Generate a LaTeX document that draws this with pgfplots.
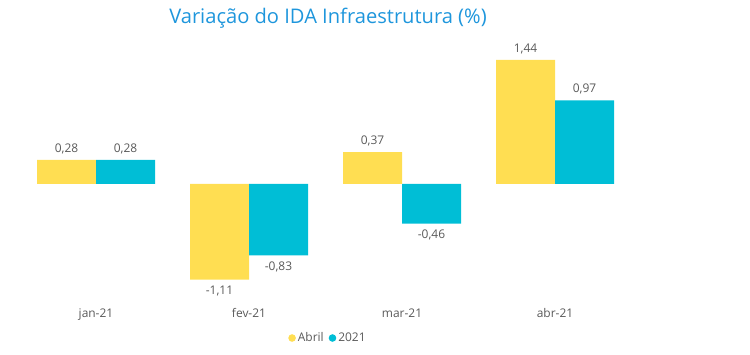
\documentclass[border=0pt]{standalone}
\usepackage{pgfplots}
\pgfplotsset{compat=1.18}
\usepackage{fontspec}
\setmainfont{Open Sans}
\definecolor{ya}{RGB}{255,222,82}
\definecolor{cb}{RGB}{0,190,214}
\definecolor{tb}{RGB}{30,150,220}
\definecolor{tg}{RGB}{89,89,89}
\begin{document}
\begin{tikzpicture}
\useasboundingbox (0bp,0bp) rectangle (750bp,355bp);
\node[text=tb, font=\fontsize{20.2}{24}\selectfont, inner sep=0pt] at (328bp,337bp) {Variação do IDA Infraestrutura (\%)};
\begin{axis}[at={(19.5bp,59.1bp)}, anchor=south west, scale only axis,
  width=612bp, height=245.4bp,
  xmin=-0.5, xmax=3.5, ymin=-1.3, ymax=1.55,
  ybar=0pt, bar width=59bp,
  axis line style={draw=none},
  ytick=\empty, xtick={0,1,2,3}, xticklabels={jan-21,fev-21,mar-21,abr-21},
  major tick length=0pt,
  xticklabel style={font=\fontsize{12}{14}\selectfont, text=tg, yshift=-9bp},
  /pgf/number format/.cd, use comma, fixed, fixed zerofill, precision=2, assume math mode=true, /pgfplots/.cd,
  nodes near coords,
  nodes near coords style={font=\fontsize{12}{14}\selectfont, text=tg, inner sep=6bp},
  legend style={draw=none, fill=none, at={(0.504,-0.1716)}, anchor=center, legend columns=2,
    font=\fontsize{12}{14}\selectfont, text=tg,
    /tikz/every even column/.append style={column sep=3bp}},
  legend cell align=left,
  clip=false,
]
\addplot[fill=ya, draw=none, legend image code/.code={\fill[ya] (0.3em,0bp) circle (3.8bp);}]
  coordinates {(0,0.28) (1,-1.11) (2,0.37) (3,1.44)};
\addplot[fill=cb, draw=none, legend image code/.code={\fill[cb] (0.3em,0bp) circle (3.8bp);}]
  coordinates {(0,0.28) (1,-0.83) (2,-0.46) (3,0.97)};
\legend{Abril,2021}
\end{axis}
\end{tikzpicture}
\end{document}
